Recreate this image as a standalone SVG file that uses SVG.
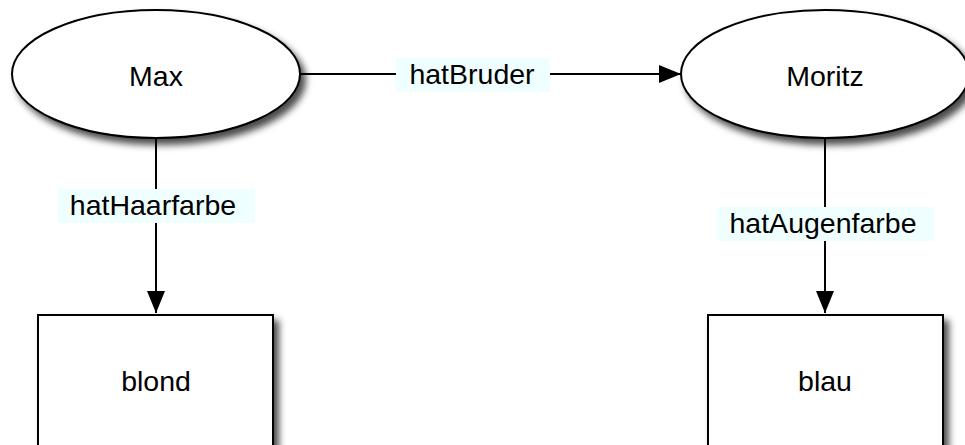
<svg xmlns="http://www.w3.org/2000/svg" width="965" height="445" viewBox="0 0 965 445">
  <defs>
    <filter id="shadow" x="-20%" y="-20%" width="150%" height="160%">
      <feDropShadow dx="5" dy="6" stdDeviation="3.5" flood-color="#000" flood-opacity="0.7"/>
    </filter>
    <marker id="arrow" markerWidth="22" markerHeight="18" refX="22" refY="9" orient="auto" markerUnits="userSpaceOnUse">
      <path d="M0,0 L22,9 L0,18 Z" fill="#000"/>
    </marker>
  </defs>
  <style>
    .shape { fill: #fff; stroke: #000; stroke-width: 2; filter: url(#shadow); }
    .edge { stroke: #000; stroke-width: 2; fill: none; marker-end: url(#arrow); }
    .lblbg { fill: #efffff; }
    text { font-family: "Liberation Sans", Arial, sans-serif; font-size: 28.5px; fill: #000; text-anchor: middle; }
  </style>

  <g id="connectors">
    <g id="e-hatBruder">
      <line class="edge" x1="300" y1="74" x2="681" y2="74"/>
      <rect class="lblbg" x="396" y="58" width="154" height="34"/>
      <text x="472" y="84">hatBruder</text>
    </g>
    <g id="e-hatHaarfarbe">
      <line class="edge" x1="156" y1="138" x2="156" y2="313"/>
      <rect class="lblbg" x="58" y="189" width="197" height="34"/>
      <text x="153" y="215">hatHaarfarbe</text>
    </g>
    <g id="e-hatAugenfarbe">
      <line class="edge" x1="825" y1="138" x2="825" y2="313"/>
      <rect class="lblbg" x="717" y="207" width="217" height="34"/>
      <text x="823" y="233">hatAugenfarbe</text>
    </g>
  </g>

  <g id="max">
    <ellipse class="shape" cx="156" cy="74" rx="144" ry="64"/>
    <text x="156" y="86">Max</text>
  </g>
  <g id="moritz">
    <ellipse class="shape" cx="825" cy="74" rx="144" ry="64"/>
    <text x="825" y="86">Moritz</text>
  </g>
  <g id="blond">
    <rect class="shape" x="38" y="315" width="235" height="150"/>
    <text x="156" y="391">blond</text>
  </g>
  <g id="blau">
    <rect class="shape" x="708" y="315" width="235" height="150"/>
    <text x="825" y="391">blau</text>
  </g>
</svg>
